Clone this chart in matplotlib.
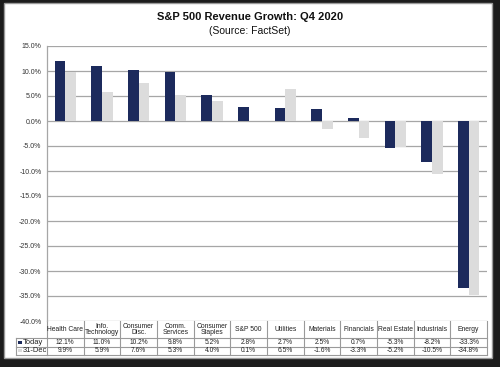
import matplotlib
matplotlib.use("Agg")
import matplotlib.pyplot as plt
from matplotlib.patches import Rectangle
import matplotlib.transforms as mtransforms
import numpy as np

plt.rcParams['font.family'] = ['Liberation Sans', 'DejaVu Sans']

categories = ["Health Care", "Info.\nTechnology", "Consumer\nDisc.", "Comm.\nServices",
              "Consumer\nStaples", "S&P 500", "Utilities", "Materials", "Financials",
              "Real Estate", "Industrials", "Energy"]
today = [12.1, 11.0, 10.2, 9.8, 5.2, 2.8, 2.7, 2.5, 0.7, -5.3, -8.2, -33.3]
dec31 = [9.9, 5.9, 7.6, 5.3, 4.0, 0.1, 6.5, -1.6, -3.3, -5.2, -10.5, -34.8]
series_names = ["Today", "31-Dec"]
yticks = [15, 10, 5, 0, -5, -10, -15, -20, -25, -30, -35, -40]

NAVY = "#1C2A5C"
LGRAY = "#DCDCDC"
GRID = "#A6A6A6"

W, H = 500, 367
fig = plt.figure(figsize=(W / 100, H / 100), dpi=100)
fig.patch.set_facecolor("#1c1c1c")
fig.patches.append(Rectangle((4 / W, 1 - 358 / H), (492 - 4) / W, (358 - 3) / H,
                             transform=fig.transFigure, facecolor="white",
                             edgecolor="#9a9a9a", linewidth=1.0, zorder=-10))

ax = fig.add_axes([47 / W, 1 - 321 / H, (487 - 47) / W, (321 - 46) / H])
ax.set_facecolor("none")
x = np.arange(len(categories))
bw = 0.29
ax.bar(x - bw / 2, today, bw, color=NAVY, zorder=3)
ax.bar(x + bw / 2, dec31, bw, color=LGRAY, zorder=3)
ax.set_xlim(-0.5, len(categories) - 0.5)
ax.set_ylim(-40, 15)
ax.set_yticks(yticks)
ax.set_yticklabels([f"{v:.1f}%" for v in yticks], fontsize=5, color="#333333")
ax.set_xticks([])
ax.tick_params(axis='y', length=0, pad=4)
for v in yticks:
    ax.axhline(v, color=GRID, linewidth=0.9, zorder=1)
for s in ["top", "right", "bottom"]:
    ax.spines[s].set_visible(False)
ax.spines["left"].set_color(GRID)
ax.spines["left"].set_linewidth(0.9)

fig.text(0.5, 1 - 17.5 / H, "S&P 500 Revenue Growth: Q4 2020", ha="center", va="center",
         fontsize=8, fontweight="bold", color="#111111")
fig.text(0.5, 1 - 31.5 / H, "(Source: FactSet)", ha="center", va="center",
         fontsize=7.5, color="#111111")

ah = 321 - 46
def ya(px):
    return -px / ah

trans = mtransforms.blended_transform_factory(ax.transData, ax.transAxes)
tcol = "#9a9a9a"
h_hdr, h_row = 17, 8.5
y0 = 0
y1 = ya(h_hdr)
y2 = ya(h_hdr + h_row)
y3 = ya(h_hdr + 2 * h_row)
n = len(categories)
lw = 0.8
ax.plot([-0.5, n - 0.5], [y1, y1], transform=trans, color=tcol, lw=lw, clip_on=False)
ax.plot([-0.5, n - 0.5], [y3, y3], transform=trans, color=tcol, lw=lw, clip_on=False)
for i in range(n + 1):
    ax.plot([i - 0.5, i - 0.5], [y0, y3], transform=trans, color=tcol, lw=lw, clip_on=False)
lx0 = -0.5 - (47 - 16) / (440 / n)
ax.plot([lx0, n - 0.5], [y2, y2], transform=trans, color=tcol, lw=lw, clip_on=False)
ax.plot([lx0, -0.5], [y1, y1], transform=trans, color=tcol, lw=lw, clip_on=False)
ax.plot([lx0, -0.5], [y3, y3], transform=trans, color=tcol, lw=lw, clip_on=False)
ax.plot([lx0, lx0], [y1, y3], transform=trans, color=tcol, lw=lw, clip_on=False)

fs = 4.8
for i, c in enumerate(categories):
    ax.text(i, (y0 + y1) / 2, c, transform=trans, ha="center", va="center",
            fontsize=fs + 0.1, color="#222222", linespacing=1.0, clip_on=False)
    ax.text(i, (y1 + y2) / 2, f"{today[i]:.1f}%", transform=trans, ha="center",
            va="center", fontsize=fs, color="#222222", clip_on=False)
    ax.text(i, (y2 + y3) / 2, f"{dec31[i]:.1f}%", transform=trans, ha="center",
            va="center", fontsize=fs, color="#222222", clip_on=False)

cw = 440 / n
for k, (name, col) in enumerate(zip(series_names, [NAVY, LGRAY])):
    yc = (y1 + y2) / 2 if k == 0 else (y2 + y3) / 2
    mx = lx0 + 2.5 / cw
    ax.add_patch(Rectangle((mx, yc - 1.6 / ah), 3.2 / cw, 3.2 / ah, transform=trans,
                           facecolor=col, edgecolor="none", clip_on=False))
    ax.text(lx0 + 6.5 / cw, yc, name, transform=trans, ha="left", va="center",
            fontsize=fs + 0.6, color="#222222", clip_on=False)

fig.savefig("out.png", dpi=100, facecolor=fig.get_facecolor())
